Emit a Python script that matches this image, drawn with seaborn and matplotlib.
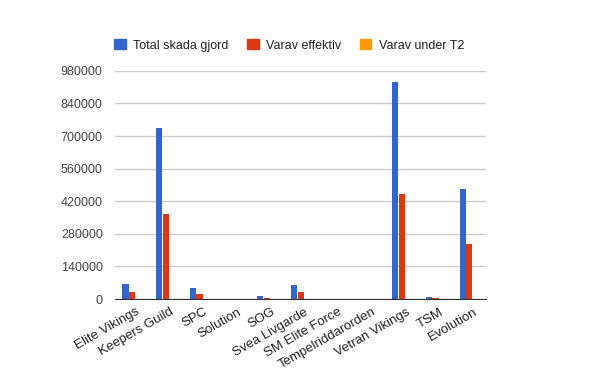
import matplotlib.pyplot as plt
import matplotlib.transforms as mtransforms
import pandas as pd
import seaborn as sns

# data
guilds = ['Elite Vikings', 'Keepers Guild', 'SPC', 'Solution', 'SOG', 'Svea Livgarde',
          'SM Elite Force', 'Tempelriddarorden', 'Vetran Vikings', 'TSM', 'Evolution']
total = [66000, 735000, 48500, 0, 14000, 62000, 0, 0, 933000, 10000, 473000]
effektiv = [31000, 366000, 23000, 0, 6000, 31000, 0, 0, 452000, 5000, 237000]
under_t2 = [0, 0, 0, 0, 0, 0, 0, 0, 0, 0, 0]
series = ['Total skada gjord', 'Varav effektiv', 'Varav under T2']
colors = ['#3366cc', '#dc3912', '#ff9900']
yticks = [0, 140000, 280000, 420000, 560000, 700000, 840000, 980000]

df = pd.DataFrame({'Guild': guilds, series[0]: total, series[1]: effektiv, series[2]: under_t2})
long_df = df.melt(id_vars='Guild', var_name='Serie', value_name='Skada')

sns.set_style('white')
plt.rcParams['font.family'] = ['Liberation Sans', 'DejaVu Sans']

fig = plt.figure(figsize=(6, 3.71), dpi=100)
ax = fig.add_axes([0.192, 0.194, 0.618, 0.615])
sns.barplot(data=long_df, x='Guild', y='Skada', hue='Serie', palette=colors,
            width=0.58, gap=0.05, ax=ax, legend=False, saturation=1,
            linewidth=0, edgecolor='none', errorbar=None)

ax.set_ylim(0, 980000)
ax.set_xlim(-0.5, len(guilds) - 0.5)
ax.set_yticks(yticks)
ax.set_yticklabels([str(v) for v in yticks], fontsize=9, color='#444444')
ax.yaxis.grid(True, color='#cccccc', linewidth=1)
ax.set_axisbelow(True)
ax.tick_params(axis='y', length=0, pad=9)
ax.tick_params(axis='x', length=0, pad=5)
ax.set_xticks(range(len(guilds)))
ax.set_xticklabels(guilds, rotation=30, ha='right', rotation_mode='anchor', fontsize=9.5, color='#222222')
shift = mtransforms.ScaledTranslation(4 / 100, 0, fig.dpi_scale_trans)
for lbl in ax.get_xticklabels():
    lbl.set_transform(lbl.get_transform() + shift)
ax.set_xlabel('')
ax.set_ylabel('')
for s in ['left', 'right', 'top']:
    ax.spines[s].set_visible(False)
ax.spines['bottom'].set_color('#333333')

# legend
handles = [plt.Rectangle((0, 0), 1, 1, color=c) for c in colors]
fig.legend(handles, series, loc='center left', bbox_to_anchor=(0.172, 0.878), ncol=3,
           frameon=False, fontsize=9, handlelength=0.9, handleheight=0.9,
           handletextpad=0.6, columnspacing=1.5, labelcolor='#222222')

fig.savefig('out.png', dpi=100)
